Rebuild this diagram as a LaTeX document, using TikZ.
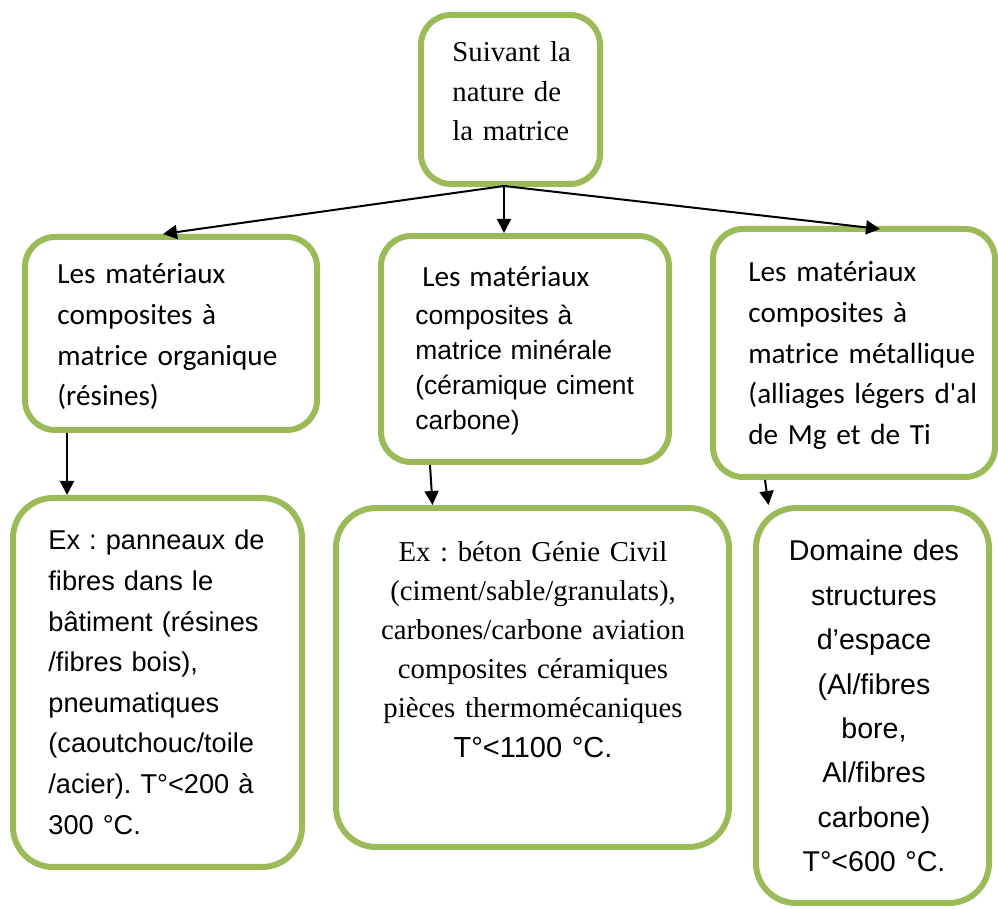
\documentclass[tikz,border=0pt]{standalone}
\usepackage{fontspec}
\setmainfont{Liberation Serif}
\newfontfamily\carlito{Carlito}
\newfontfamily\arialfont{Liberation Sans}
\usetikzlibrary{arrows.meta,calc,positioning}
\definecolor{boxgreen}{RGB}{155,187,89}
\frenchspacing
\tikzset{
  box/.style={draw=boxgreen, line width=3pt, rounded corners=15pt, fill=white},
  link/.style={-{Triangle[length=7pt,width=7pt]}, line width=1pt},
  txt/.style={inner sep=0pt, anchor=base west, align=left},
}

\begin{document}
\begin{tikzpicture}[
  x=0.5pt, y=-0.5pt,
  bigbox/.style={box, rounded corners=20pt},
]
  \useasboundingbox (0,0) rectangle (998,909);

  % Top box
  \node[box, minimum width=89.5pt, minimum height=84.5pt] (nature) at (510.5,99.5) {};
  \node[txt, text width=70pt, font={\fontsize{14.4}{19.75}\selectfont}] (naturetxt) at (452,62)
    {Suivant la\\nature de\\la matrice};

  % Middle row
  \node[box, minimum width=146pt, minimum height=96.5pt] (org) at (171,333.5) {};
  \node[txt, text width=125pt, font={\carlito\fontsize{14.6}{20.3}\selectfont}] (orgtxt) at (57,284)
    {Les matériaux\\composites à\\matrice organique\\(résines)};

  \node[box, minimum width=144pt, minimum height=113pt] (min) at (525,349) {};
  \node[txt, text width=120pt, font={\arialfont\fontsize{13.2}{17.5}\selectfont}] (mintxt) at (415,287)
    {{\carlito\fontsize{14.6}{17.5}\selectfont\hspace{3.5pt}Les matériaux}\\[1.5pt]composites à\\matrice minérale\\(céramique ciment\\carbone)};

  \node[box, minimum width=141pt, minimum height=124pt] (met) at (854,353) {};
  \node[txt, text width=125pt, font={\carlito\fontsize{14.6}{20.3}\selectfont}] (mettxt) at (748,282)
    {Les matériaux\\composites à\\matrice métallique\\(alliages légers d'al\\de Mg et de Ti};

  % Bottom row
  \node[bigbox, minimum width=144.5pt, minimum height=184.5pt] (exorg) at (157.5,682.5) {};
  \node[txt, text width=125pt, font={\arialfont\fontsize{13.6}{20.3}\selectfont}] (exorgtxt) at (48,550)
    {Ex : panneaux de\\fibres dans le\\bâtiment (résines\\/fibres bois),\\pneumatiques\\(caoutchouc/toile\\/acier). T°<200 à\\300 °C.};

  \node[bigbox, minimum width=196.5pt, minimum height=169.5pt] (exmin) at (532.5,677.5) {};
  \node[txt, anchor=base, align=center, text width=180pt, font={\fontsize{14.4}{19.5}\selectfont}] (exmintxt) at (533,562)
    {Ex : béton Génie Civil\\(ciment/sable/granulats),\\carbones/carbone aviation\\composites céramiques\\pièces thermomécaniques\\[0.5pt]{\arialfont\fontsize{14.5}{19.5}\selectfont T°<1100 °C.}};

  \node[bigbox, minimum width=116.5pt, minimum height=197.5pt] (exmet) at (872.5,705.5) {};
  \node[txt, anchor=base, align=center, text width=110pt, font={\arialfont\fontsize{14.3}{22.2}\selectfont}] (exmettxt) at (874,561)
    {Domaine des\\structures\\d’espace\\(Al/fibres\\bore,\\Al/fibres\\carbone)\\T°<600 °C.};

  % Connections
  \coordinate (fork) at (504,186);
  \draw[link] (fork) -- ($(org.north)+(-8,0)$);
  \draw[link] (fork) -- (fork |- min.north);
  \draw[link] (fork) -- ($(met.north)+(26,3)$);

  \draw[link] ($(org.south)+(-104,0)$) -- ($(exorg.north)+(-90.5,0)$);
  \draw[link] ($(min.south)+(-95,0)$) -- ($(exmin.north)+(-100,0)$);
  \draw[link] ($(met.south)+(-89,0)$) -- ($(exmet.north)+(-104,0)$);
\end{tikzpicture}
\end{document}
